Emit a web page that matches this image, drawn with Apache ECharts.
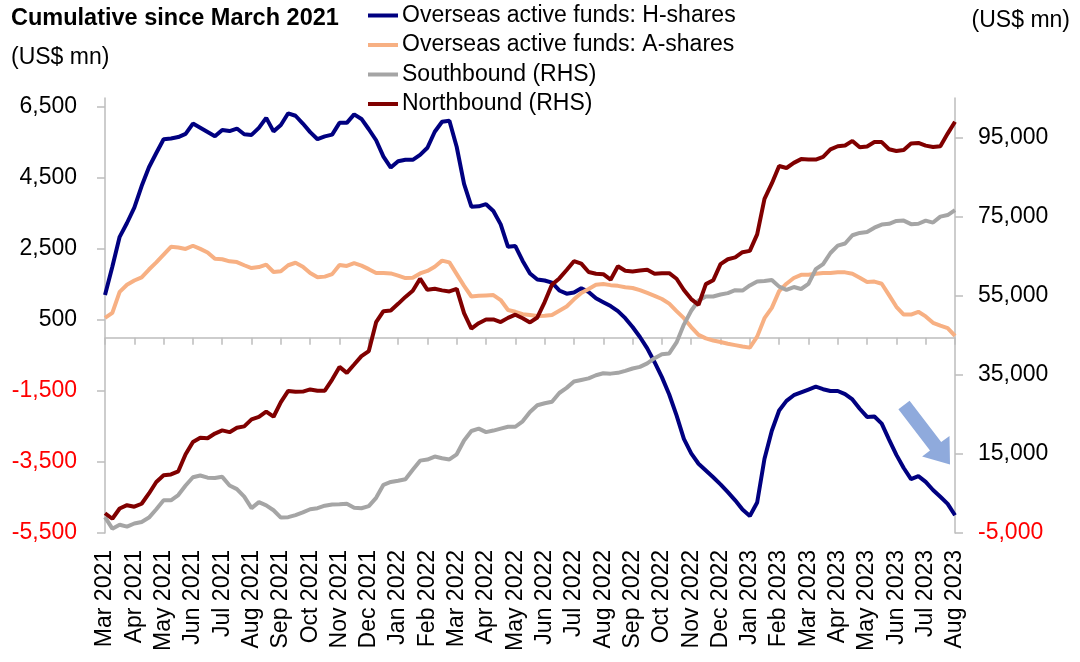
<!DOCTYPE html>
<html>
<head>
<meta charset="utf-8">
<script src="https://cdn.jsdelivr.net/npm/echarts@6/dist/echarts.min.js"></script>
<style>
html,body{margin:0;padding:0;background:#fff;}
#chart{width:1080px;height:662px;}
</style>
</head>
<body>
<div id="chart"></div>
<script>
// Month labels (one tick per month), 4 weekly observations per month
const months = ['Mar 2021','Apr 2021','May 2021','Jun 2021','Jul 2021','Aug 2021','Sep 2021','Oct 2021','Nov 2021','Dec 2021',
  'Jan 2022','Feb 2022','Mar 2022','Apr 2022','May 2022','Jun 2022','Jul 2022','Aug 2022','Sep 2022','Oct 2022','Nov 2022','Dec 2022',
  'Jan 2023','Feb 2023','Mar 2023','Apr 2023','May 2023','Jun 2023','Jul 2023','Aug 2023'];
const weeksPerMonth = 4;

const leftTicks = [-5500, -3500, -1500, 500, 2500, 4500, 6500];
const rightTicks = [-5000, 15000, 35000, 55000, 75000, 95000];

// Overseas active funds: H-shares (LHS, US$ mn)
const hShares = [1200,2000,2840,3230,3660,4270,4800,5200,5590,5610,
  5650,5740,6030,5910,5790,5670,5850,5820,5890,5730,
  5710,5910,6190,5810,5990,6320,6250,6030,5790,5590,
  5670,5720,6050,6050,6290,6160,5870,5560,5100,4790,
  4970,5010,5010,5150,5350,5800,6080,6110,5370,4330,
  3690,3700,3760,3570,3190,2560,2580,2160,1810,1640,
  1610,1550,1330,1240,1270,1390,1290,1110,1000,890,
  750,550,300,20,-300,-690,-1110,-1600,-2190,-2850,
  -3260,-3550,-3740,-3930,-4130,-4350,-4580,-4840,-5020,-4640,
  -3410,-2620,-2050,-1780,-1620,-1540,-1460,-1380,-1450,-1500,
  -1500,-1590,-1740,-2000,-2230,-2220,-2420,-2870,-3300,-3670,
  -3980,-3900,-4060,-4290,-4480,-4680,-5000];

// Overseas active funds: A-shares (LHS, US$ mn)
const aShares = [560,700,1290,1490,1610,1700,1920,2120,2340,2560,
  2540,2500,2590,2500,2400,2220,2210,2150,2130,2040,
  1960,1990,2060,1850,1870,2040,2110,2000,1820,1700,
  1720,1790,2050,2020,2100,2030,1930,1820,1820,1810,
  1750,1680,1690,1810,1880,2000,2170,2120,1790,1460,
  1160,1180,1190,1200,1060,780,730,660,640,610,
  620,640,760,880,1080,1260,1370,1490,1510,1480,
  1460,1420,1400,1340,1260,1180,1090,960,750,550,
  300,80,-20,-80,-120,-170,-210,-250,-280,30,
  550,840,1310,1520,1680,1770,1770,1800,1820,1820,
  1840,1840,1800,1690,1570,1580,1520,1200,870,650,
  650,730,600,420,340,270,50];

// Southbound (RHS, US$ mn)
const southbound = [-1000,-3900,-2900,-3400,-2600,-2200,-1100,1000,3270,3270,
  4600,7000,9100,9550,9000,8900,9200,7000,6100,4200,
  1300,2800,2000,750,-1100,-1000,-490,200,1010,1270,
  1900,2200,2270,2400,1400,1270,1800,3900,7200,7900,
  8200,8600,11000,13300,13580,14330,13900,13600,14900,18400,
  20800,21400,20500,20900,21400,21870,21870,23250,25600,27300,
  27800,28200,30400,31700,33300,33700,34100,34900,35400,35300,
  35500,36000,36600,37000,37900,39200,40220,40400,43200,47700,
  51200,53800,54790,54800,55300,55650,56400,56300,57600,58600,
  58700,59000,57300,56500,57200,56700,58000,61700,63000,65800,
  67650,68200,70300,70880,71100,72200,73000,73200,73900,74000,
  73100,73200,74000,73500,75000,75400,76660];

// Northbound (RHS, US$ mn)
const northbound = [0,-1400,1200,2030,1650,2400,5000,7900,9600,9810,
  10600,14900,18000,19100,18950,20150,20950,20500,21600,21970,
  23740,24380,25700,24400,28100,30920,30700,30750,31300,30950,
  31000,33800,37000,35500,37600,39710,41000,48300,51100,51250,
  52950,54700,56250,59300,56500,56750,56350,56070,56750,50600,
  46700,48050,49010,49010,48350,49400,50200,49300,48260,49500,
  53400,57810,59380,61500,63740,63100,61000,60570,60450,59050,
  62450,61300,61150,61400,61570,60570,60700,60700,59300,56450,
  54150,52700,57930,58900,63000,64230,64690,66000,66350,70500,
  79500,83400,87800,87300,88600,89550,89470,89430,90100,92000,
  92800,92990,94150,92550,92750,93850,93850,92050,91600,91850,
  93500,93650,92950,92600,92800,96000,99000];

// weekly category keys built from months
const categories = [];
for (let i = 0; i < hShares.length; i++) {
  const m = Math.floor(i / weeksPerMonth);
  categories.push(months[Math.min(m, months.length - 1)] + ' #' + i);
}

const fmt = v => (v < 0 ? '-' : '') + Math.abs(v).toLocaleString('en-US');
const FONT = 'Liberation Sans, Arial, sans-serif';
const FS = 23;
const AXIS_GRAY = '#BDBDBD';

const chart = echarts.init(document.getElementById('chart'), null, {renderer: 'canvas'});
chart.setOption({
  backgroundColor: '#ffffff',
  animation: false,
  textStyle: {fontFamily: FONT},
  title: [
    {text: 'Cumulative since March 2021', left: 11, top: 7, padding: 0,
     textStyle: {fontFamily: FONT, fontSize: 23.5, fontWeight: 'bold', color: '#000'}},
    {text: '(US$ mn)', left: 11, top: 46, padding: 0,
     textStyle: {fontFamily: FONT, fontSize: FS, fontWeight: 'normal', color: '#000'}},
    {text: '(US$ mn)', right: 10, top: 9, padding: 0,
     textStyle: {fontFamily: FONT, fontSize: FS, fontWeight: 'normal', color: '#000'}}
  ],
  legend: {
    orient: 'vertical', left: 368, top: 4, padding: 0,
    itemWidth: 30, itemHeight: 4, itemGap: 6.5,
    icon: 'rect',
    textStyle: {fontFamily: FONT, fontSize: FS, color: '#000', lineHeight: 23, padding: [0,0,0,-1]},
    data: ['Overseas active funds: H-shares', 'Overseas active funds: A-shares', 'Southbound (RHS)', 'Northbound (RHS)']
  },
  grid: {left: 105, right: 125, top: 98, bottom: 129, containLabel: false},
  xAxis: [
    {
      type: 'category', data: categories, boundaryGap: false, position: 'top',
      axisLine: {show: true, onZero: true, onZeroAxisIndex: 0, lineStyle: {color: AXIS_GRAY, width: 1.5}},
      axisTick: {show: true, inside: true, length: 7, interval: (i) => i % weeksPerMonth === 0, lineStyle: {color: AXIS_GRAY, width: 1.5}},
      axisLabel: {show: false},
      splitLine: {show: false}
    },
    {
      type: 'category', data: categories, boundaryGap: false, position: 'bottom',
      axisLine: {show: false}, axisTick: {show: false},
      axisLabel: {
        show: true, rotate: 90, margin: 17, interval: 0,
        fontFamily: FONT, fontSize: FS, color: '#000',
        formatter: (v, i) => (i % weeksPerMonth === 0 ? months[i / weeksPerMonth] : '')
      },
      splitLine: {show: false}
    }
  ],
  yAxis: [
    {
      type: 'value', position: 'left', min: -5500, max: 6750, interval: 2000,
      axisLine: {show: true, lineStyle: {color: AXIS_GRAY, width: 1.5}},
      axisTick: {show: true, inside: false, length: 8, customValues: leftTicks, lineStyle: {color: AXIS_GRAY, width: 1.5}},
      axisLabel: {
        show: true, margin: 28, fontFamily: FONT, fontSize: FS, customValues: leftTicks,
        color: (v) => (Number(v) < 0 ? '#FF0000' : '#000000'),
        formatter: (v) => fmt(v)
      },
      splitLine: {show: false}
    },
    {
      type: 'value', position: 'right', min: -5000, max: 105000, interval: 20000,
      axisLine: {show: true, lineStyle: {color: AXIS_GRAY, width: 1.5}},
      axisTick: {show: true, inside: false, length: 8, customValues: rightTicks, lineStyle: {color: AXIS_GRAY, width: 1.5}},
      axisLabel: {
        show: true, margin: 23, fontFamily: FONT, fontSize: FS, customValues: rightTicks,
        color: (v) => (Number(v) < 0 ? '#FF0000' : '#000000'),
        formatter: (v) => fmt(v)
      },
      splitLine: {show: false}
    }
  ],
  series: [
    {name: 'Overseas active funds: H-shares', type: 'line', xAxisIndex: 0, yAxisIndex: 0, data: hShares,
     showSymbol: false, symbol: 'none', lineStyle: {color: '#000080', width: 4}, itemStyle: {color: '#000080'}, z: 3},
    {name: 'Overseas active funds: A-shares', type: 'line', xAxisIndex: 0, yAxisIndex: 0, data: aShares,
     showSymbol: false, symbol: 'none', lineStyle: {color: '#F7B083', width: 4}, itemStyle: {color: '#F7B083'}, z: 3},
    {name: 'Southbound (RHS)', type: 'line', xAxisIndex: 0, yAxisIndex: 1, data: southbound,
     showSymbol: false, symbol: 'none', lineStyle: {color: '#A5A5A5', width: 4}, itemStyle: {color: '#A5A5A5'}, z: 3},
    {name: 'Northbound (RHS)', type: 'line', xAxisIndex: 0, yAxisIndex: 1, data: northbound,
     showSymbol: false, symbol: 'none', lineStyle: {color: '#800000', width: 4}, itemStyle: {color: '#800000'}, z: 3}
  ],
  graphic: [
    {
      type: 'polygon', z: 10,
      shape: {points: [[909.6,400.7],[941.2,442.0],[949.5,436.0],[950,464.6],[922.1,456.6],[930.0,450.6],[898.4,409.3]]},
      style: {fill: '#8FAADC', stroke: null}
    }
  ]
});
</script>
</body>
</html>
